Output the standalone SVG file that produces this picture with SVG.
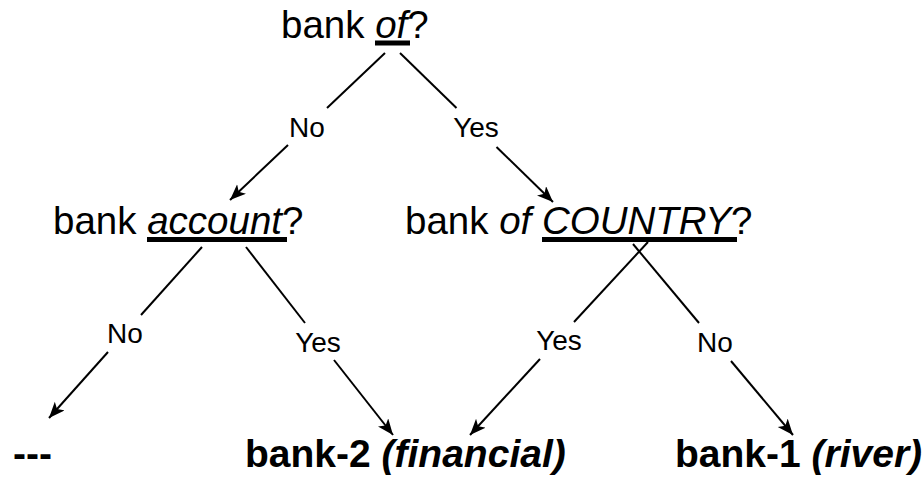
<svg xmlns="http://www.w3.org/2000/svg" width="923" height="477" viewBox="0 0 923 477">
  <defs>
    <marker id="arrow" markerUnits="userSpaceOnUse" markerWidth="18" markerHeight="14" refX="16" refY="6.5" orient="auto">
      <path d="M0,0 L16,6.5 L0,13 L4,6.5 z" fill="#000"/>
    </marker>
    <style>
      .q { font-family: "Liberation Sans", Arial, sans-serif; font-size: 38.5px; fill: #000; }
      .lbl { font-family: "Liberation Sans", Arial, sans-serif; font-size: 28px; fill: #000; text-anchor: middle; }
      .leaf { font-family: "Liberation Sans", Arial, sans-serif; font-size: 39px; font-weight: bold; fill: #000; }
      .it { font-style: italic; }
      .ul { fill: #000; }
      .edge { stroke: #000; stroke-width: 2; fill: none; }
    </style>
  </defs>
  <rect width="923" height="477" fill="#fff"/>

  <!-- connectors: each edge is split around its label -->
  <g id="connectors">
    <path class="edge" d="M385,53 L327,108"/>
    <path class="edge" d="M288,145 L230,200" marker-end="url(#arrow)"/>
    <path class="edge" d="M400,53 L456.5,108"/>
    <path class="edge" d="M496.5,147 L553,202" marker-end="url(#arrow)"/>
    <path class="edge" d="M202,247 L141,315"/>
    <path class="edge" d="M108,352 L49,418" marker-end="url(#arrow)"/>
    <path class="edge" d="M246,247 L305,323"/>
    <path class="edge" d="M334,360 L393,435" marker-end="url(#arrow)"/>
    <path class="edge" d="M648,242 L574,322"/>
    <path class="edge" d="M540,359 L470,435" marker-end="url(#arrow)"/>
    <path class="edge" d="M633,244 L699,323"/>
    <path class="edge" d="M731,361 L793,435" marker-end="url(#arrow)"/>
  </g>

  <!-- edge labels -->
  <g id="edge-labels">
    <text class="lbl" x="307" y="137">No</text>
    <text class="lbl" x="476" y="137">Yes</text>
    <text class="lbl" x="125" y="343">No</text>
    <text class="lbl" x="318" y="352">Yes</text>
    <text class="lbl" x="559" y="350">Yes</text>
    <text class="lbl" x="715" y="352">No</text>
  </g>

  <g id="q-of">
    <text class="q" x="281" y="38">bank <tspan class="it">of</tspan>?</text>
    <rect class="ul" x="375" y="40.5" width="35" height="5"/>
  </g>

  <g id="q-account">
    <text class="q" x="53" y="234">bank <tspan class="it">account</tspan>?</text>
    <rect class="ul" x="147" y="237" width="140" height="5"/>
  </g>

  <g id="q-country">
    <text class="q" x="405" y="234">bank <tspan class="it">of</tspan> <tspan class="it">COUNTRY</tspan>?</text>
    <rect class="ul" x="542" y="237" width="195" height="5"/>
  </g>

  <g id="leaf-none">
    <text class="leaf" x="13" y="467">---</text>
  </g>

  <g id="leaf-bank2">
    <text class="leaf" x="245" y="467">bank-2 <tspan class="it">(financial)</tspan></text>
  </g>

  <g id="leaf-bank1">
    <text class="leaf" x="675" y="467">bank-1 <tspan class="it">(river)</tspan></text>
  </g>
</svg>
